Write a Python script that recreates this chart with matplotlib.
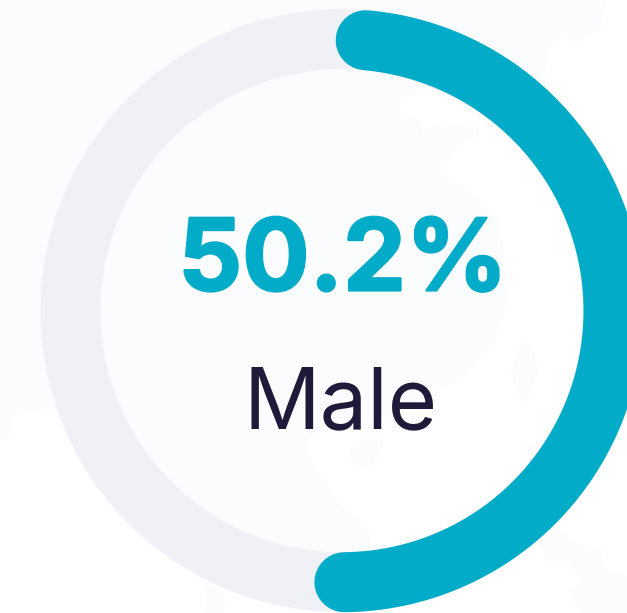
import numpy as np
import matplotlib
matplotlib.use("Agg")
import matplotlib.pyplot as plt
import matplotlib.patheffects as pe
from matplotlib.patches import Polygon

# values
category = "Male"
percent = 50.2
value_label = "50.2%"

# faint map behind the ring, traced in picture pixels
map_main = [(0, 0), (606, 0), (600, 27), (577, 42), (563, 33), (548, 45), (545, 70), (520, 90),
            (460, 85), (420, 87), (397, 107), (400, 115), (420, 122), (422, 132), (443, 123),
            (477, 127), (478, 135), (463, 140), (440, 170), (473, 197), (500, 225), (507, 300),
            (493, 343), (460, 380), (433, 390), (395, 415), (333, 423), (307, 437), (307, 457),
            (340, 505), (370, 533), (370, 570), (272, 573), (206, 546), (106, 446), (60, 408), (50, 408),
            (33, 412), (17, 408), (12, 417), (10, 437), (0, 440)]
map_island_a = [(352, 450), (360, 441), (372, 438), (383, 438), (381, 452), (372, 465), (358, 468), (350, 460)]
map_island_b = [(525, 342), (533, 350), (537, 370), (532, 390), (524, 403), (516, 390), (512, 370), (517, 350)]
map_island_c = [(558, 528), (575, 545), (600, 550), (604, 570), (627, 578), (627, 613), (580, 613),
                (570, 590), (585, 585), (570, 560), (548, 560), (540, 545)]
map_island_d = [(205, 583), (220, 590), (224, 605), (222, 613), (205, 613), (207, 600)]

# ring geometry in pixels
cx, cy = 342, 310.7
r = 271.5
ring_w = 60
start_deg = 5.0
deg_per_pct = 3.476

teal = "#02abc7"
grey = "#f0f1f7"
pale = "#fbfcfe"
navy = "#1e1b3a"

plt.rcParams["font.family"] = ["Inter", "DejaVu Sans"]

fig = plt.figure(figsize=(6.27, 6.13), dpi=100)
ax = fig.add_axes([0, 0, 1, 1])
ax.set_xlim(0, 627)
ax.set_ylim(613, 0)
ax.axis("off")

for shape in [map_main, map_island_a, map_island_b, map_island_c, map_island_d]:
    ax.add_patch(Polygon(shape, closed=True, facecolor=pale, edgecolor=pale, linewidth=1, joinstyle="round"))

lw = ring_w * 72 / fig.dpi

t = np.radians(np.linspace(0, 360, 721))
ax.plot(cx + r * np.sin(t), cy - r * np.cos(t), color=grey, lw=lw, solid_capstyle="butt")

t = np.radians(np.linspace(start_deg, start_deg + percent * deg_per_pct, 400))
ax.plot(cx + r * np.sin(t), cy - r * np.cos(t), color=teal, lw=lw, solid_capstyle="round")

# the bold weight comes out wider and thinner than the reference, so smaller size plus a stroke
ax.text(343, 290.5, value_label, color=teal, fontsize=72, fontweight="bold", ha="center", va="baseline",
        path_effects=[pe.withStroke(linewidth=1.6, foreground=teal)])
ax.text(341, 428, category, color=navy, fontsize=61, ha="center", va="baseline")

fig.savefig("out.png", dpi=100)
